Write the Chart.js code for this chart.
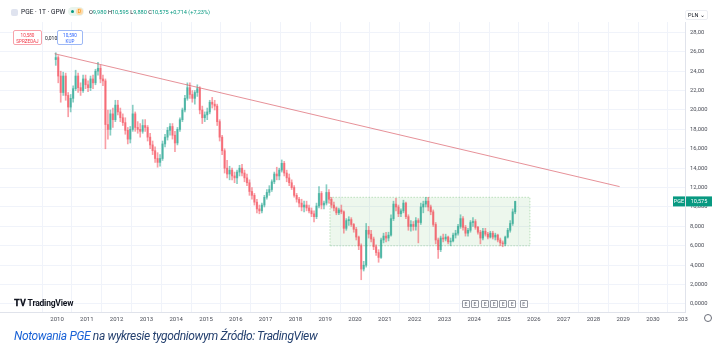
<!DOCTYPE html>
<html>
<head>
<meta charset="utf-8">
<script src="https://cdn.jsdelivr.net/npm/chart.js@4.4.1/dist/chart.umd.min.js"></script>
<style>
  html, body { margin:0; padding:0; background:#ffffff; }
  body { width:717px; height:355px; position:relative; overflow:hidden; font-family:"Roboto","Noto Sans",Arial,sans-serif; }
  #wrap { position:absolute; left:0; top:0; width:717px; height:327px; }
  .ov { position:absolute; white-space:nowrap; }
  #title { left:21px; top:8px; font-size:6.6px; color:#131722; }
  #logoDot { left:11px; top:9px; width:7px; height:7px; border-radius:2px; background:#dfe3ef; }
  #pill { left:68px; top:7px; width:16px; height:9px; border-radius:5px; background:#e9f5ee; }
  #pill .g { position:absolute; left:3px; top:3px; width:3px; height:3px; border-radius:2px; background:#089981; }
  #pill .o { position:absolute; left:8px; top:1px; width:7px; height:7px; border-radius:4px; background:#ffd9a8; color:#f08c00; font-size:5px; line-height:7px; text-align:center; }
  #ohlc { left:89px; top:9px; font-size:5.6px; color:#131722; }
  #ohlc b { font-weight:normal; color:#089981; }
  .btn { top:30px; height:15px; border-radius:2px; font-size:4.6px; line-height:5.5px; text-align:center; padding-top:2px; box-sizing:border-box; background:#fff; overflow:visible; }
  #sell { left:13px; width:29px; border:1px solid #f7a3ab; color:#f23645; }
  #buy { left:57px; width:26px; border:1px solid #9db8f5; color:#2962ff; }
  #spread { left:45px; top:35px; font-size:5px; color:#131722; }
  #pln { left:685px; top:10px; font-size:5.5px; color:#131722; border:1px solid #eceef3; border-radius:2px; padding:1px 2px; }
  #tvlogo { left:14px; top:298px; font-size:8.5px; font-weight:bold; color:#131722; letter-spacing:-0.2px; }
  #tvlogo span { font-size:9px; margin-right:2px; }
  #events { left:462px; top:300px; font-size:5px; color:#6a6d78; }
  #events i { font-style:normal; display:inline-block; border:1px solid #9598a1; border-radius:1px; width:6px; height:6px; line-height:6px; text-align:center; margin-right:1px; }
  #clock { left:704px; top:314px; width:6px; height:6px; border:1px solid #6a6d78; border-radius:4px; }
  #caption { left:14px; top:329px; font-size:12px; font-style:italic; color:#233f6e; font-family:"Roboto","Liberation Sans",sans-serif; letter-spacing:-0.35px; }
  #caption a { color:#1a62d6; text-decoration:none; }
</style>
</head>
<body>
<div id="wrap"><canvas id="c" width="717" height="327"></canvas></div>
<div class="ov" id="logoDot"></div>
<div class="ov" id="title">PGE · 1T · GPW</div>
<div class="ov" id="pill"><div class="g"></div><div class="o">D</div></div>
<div class="ov" id="ohlc">O<b>9,980</b> H<b>10,595</b> L<b>9,880</b> C<b>10,575</b> <b>+0,714 (+7,23%)</b></div>
<div class="ov btn" id="sell">10,580<br>SPRZEDAJ</div>
<div class="ov" id="spread">0,010</div>
<div class="ov btn" id="buy">10,590<br>KUP</div>
<div class="ov" id="pln">PLN &#8964;</div>
<div class="ov" id="tvlogo"><span>&#x1D413;&#x1D415;</span>TradingView</div>
<div class="ov" id="events"><i>E</i><i>E</i> <i>E</i><i>E</i><i>E</i><i>E</i> &nbsp;<i>E</i></div>
<div class="ov" id="clock"></div>
<div class="ov" id="caption"><a>Notowania PGE</a> na wykresie tygodniowym Źródło: TradingView</div>
<script>
// ---- DATA (monthly candles), first month Dec 2009 ----
const firstYear = 2009, firstMonth = 11; // December 2009 (0-based month)
const opens = [
  25.2,
  25.4,23.5,21.8,23.5,21.5,20.3,21.2,22.2,23.5,22.3,22.0,23.2,
  22.6,22.3,23.2,22.8,24.0,24.3,23.2,23.0,18.5,18.0,19.6,19.0,
  20.5,19.8,19.2,18.7,17.9,17.0,18.0,19.6,18.2,18.0,17.8,18.4,
  18.2,17.2,16.4,15.8,15.0,14.6,15.0,16.5,17.2,17.9,18.3,17.4,
  16.6,18.0,19.0,20.0,21.2,22.3,21.6,21.2,21.8,22.2,20.0,19.2,
  19.5,19.8,20.8,20.6,20.4,18.8,17.2,15.8,14.0,13.4,13.8,13.2,
  13.0,13.6,14.0,13.5,13.0,12.5,11.6,11.2,10.5,9.8,9.6,10.2,
  11.0,11.5,11.8,12.6,13.4,13.2,13.8,14.5,13.5,13.0,12.5,12.0,
  11.2,10.8,10.4,10.0,10.2,9.9,9.6,9.3,9.0,10.1,11.4,10.2,
  10.4,11.5,10.8,10.2,9.9,9.4,9.7,9.5,7.8,8.6,8.7,8.2,
  7.7,6.9,6.0,3.6,4.0,7.6,7.2,6.7,5.9,5.3,4.8,6.6,
  7.0,6.8,7.1,8.8,10.3,10.0,9.3,9.6,10.4,9.0,8.0,8.2,
  8.0,8.6,8.4,10.0,10.3,10.6,10.0,9.5,8.2,6.6,5.6,6.8,
  6.7,6.9,6.4,6.5,7.1,7.3,8.0,8.8,7.9,7.3,7.6,8.4,
  8.5,7.9,7.4,6.8,7.5,7.2,6.9,7.3,6.9,7.1,6.6,6.3,
  6.2,6.9,7.6,8.3,9.5
];
const highs = [
  25.9,
  25.6,24.0,23.9,23.8,21.8,21.6,22.5,24.1,23.8,22.8,23.6,23.6,
  23.0,23.5,23.6,24.2,24.9,24.6,23.6,23.2,20.0,20.0,20.2,21.0,
  21.0,20.2,19.6,19.2,18.2,18.3,20.5,19.8,18.8,18.6,19.0,19.0,
  18.4,17.6,16.8,16.2,15.6,15.4,16.8,17.5,18.2,18.6,18.6,17.8,
  18.2,19.2,20.2,21.5,22.8,22.8,22.0,22.0,22.6,22.4,20.4,19.8,
  20.2,21.0,21.3,21.0,20.6,19.0,17.4,16.0,14.8,14.2,14.0,13.6,
  13.8,14.3,14.4,13.8,13.4,12.8,12.0,11.4,10.8,10.2,10.4,11.2,
  11.8,12.2,12.8,13.6,14.1,14.0,14.85,14.7,13.8,13.4,12.8,12.2,
  11.4,11.0,10.8,10.6,10.6,10.2,9.9,9.6,10.4,12.1,11.6,10.6,
  12.3,11.8,11.0,10.5,10.0,9.9,10.2,9.6,8.8,9.0,8.9,8.3,
  7.9,7.0,6.2,4.4,8.3,8.0,7.6,6.9,6.1,5.6,6.8,7.3,
  7.4,7.4,9.2,10.6,10.9,10.2,9.8,10.7,10.5,9.2,8.6,8.5,
  8.9,8.8,10.4,10.6,11.0,11.0,10.2,9.7,8.4,6.8,7.0,7.2,
  7.2,7.0,6.8,7.3,7.6,8.2,9.2,9.0,8.1,7.8,8.6,8.9,
  8.7,8.0,7.6,7.8,7.8,7.4,7.5,7.5,7.3,7.2,6.8,6.5,
  7.0,7.8,8.6,9.8,10.6
];
const lows = [
  24.6,
  22.8,20.8,21.5,21.0,19.3,19.8,20.8,22.0,21.8,21.5,21.8,22.2,
  21.9,22.0,22.2,22.6,23.6,22.8,22.5,16.0,17.0,17.4,18.2,18.8,
  19.5,18.8,18.4,17.5,16.5,16.6,17.8,17.8,17.6,17.2,17.6,17.8,
  16.8,16.0,15.4,14.6,14.1,14.2,14.8,16.2,16.9,17.4,17.0,15.7,
  16.4,17.8,18.8,19.8,21.0,21.2,20.8,20.6,21.4,19.6,18.6,18.8,
  19.0,19.6,20.2,20.0,18.4,16.8,15.4,13.5,13.0,12.8,12.8,12.5,
  12.4,13.2,13.2,12.6,12.2,11.2,10.8,10.2,9.4,9.3,9.4,10.0,
  10.8,11.2,11.6,12.4,12.8,12.8,13.6,13.2,12.6,12.2,11.8,11.0,
  10.5,10.0,9.6,9.5,9.6,9.4,9.0,8.45,8.8,9.9,9.8,9.8,
  10.2,10.4,9.9,9.6,9.2,9.2,9.3,7.3,7.6,8.1,8.0,7.4,
  6.6,5.6,2.5,3.4,3.8,6.8,6.4,5.6,5.0,4.3,4.7,6.3,
  6.4,6.5,7.0,8.6,9.6,9.0,9.0,9.4,8.8,7.6,7.5,7.6,
  7.6,6.3,8.2,9.4,10.0,9.6,9.2,8.0,6.2,4.7,5.4,6.4,
  6.5,6.2,6.0,6.4,6.8,7.1,7.8,7.6,7.0,7.0,7.4,8.0,
  7.7,7.2,6.2,6.6,7.0,6.7,6.8,6.7,6.6,6.4,6.0,5.9,
  6.0,6.8,7.4,8.1,9.3
];
const closes = [
  25.4,
  23.5,21.8,23.5,21.5,20.3,21.2,22.2,23.5,22.3,22.0,23.2,22.6,
  22.3,23.2,22.8,24.0,24.3,23.2,23.0,18.5,18.0,19.6,19.0,20.5,
  19.8,19.2,18.7,17.9,17.0,18.0,19.6,18.2,18.0,17.8,18.4,18.2,
  17.2,16.4,15.8,15.0,14.6,15.0,16.5,17.2,17.9,18.3,17.4,16.6,
  18.0,19.0,20.0,21.2,22.3,21.6,21.2,21.8,22.2,20.0,19.2,19.5,
  19.8,20.8,20.6,20.4,18.8,17.2,15.8,14.0,13.4,13.8,13.2,13.0,
  13.6,14.0,13.5,13.0,12.5,11.6,11.2,10.5,9.8,9.6,10.2,11.0,
  11.5,11.8,12.6,13.4,13.2,13.8,14.5,13.5,13.0,12.5,12.0,11.2,
  10.8,10.4,10.0,10.2,9.9,9.6,9.3,9.0,10.1,11.4,10.2,10.4,
  11.5,10.8,10.2,9.9,9.4,9.7,9.5,7.8,8.6,8.7,8.2,7.7,
  6.9,6.0,3.6,4.0,7.6,7.2,6.7,5.9,5.3,4.8,6.6,7.0,
  6.8,7.1,8.8,10.3,10.0,9.3,9.6,10.4,9.0,8.0,8.2,8.0,
  8.6,8.4,10.0,10.3,10.6,10.0,9.5,8.2,6.6,5.6,6.8,6.7,
  6.9,6.4,6.5,7.1,7.3,8.0,8.8,7.9,7.3,7.6,8.4,8.5,
  7.9,7.4,6.8,7.5,7.2,6.9,7.3,6.9,7.1,6.6,6.3,6.2,
  6.9,7.6,8.3,9.5,10.575
];
// Trendline (decimal year, price) and consolidation box
const trendX = [2009.92, 2028.88];
const trendY = [25.8, 12.1];
const boxX = [2019.16, 2025.87];
const boxY = [6.0, 11.0];
// Axis ticks
const xTickYears = [2010,2011,2012,2013,2014,2015,2016,2017,2018,2019,2020,2021,2022,2023,2024,2025,2026,2027,2028,2029,2030,2031];
const xTickLabels = ['2010','2011','2012','2013','2014','2015','2016','2017','2018','2019','2020','2021','2022','2023','2024','2025','2026','2027','2028','2029','2030','203'];
const yTickValues = [0,2,4,6,8,10,12,14,16,18,20,22,24,26,28];
const yTickLabels = ['0,0000','2,0000','4,000','6,000','8,000','10,000','12,000','14,000','16,000','18,000','20,000','22,00','24,00','26,00','28,00'];

// ---- BUILD ----
const monthPos = i => { const m = firstMonth + i; return firstYear + Math.floor(m/12) + ((m % 12) + 0.5) / 12; };
const UP = 'rgba(8,153,129,0.48)', DOWN = 'rgba(242,54,69,0.48)';
const cols = closes.map((c,i) => c >= opens[i] ? UP : DOWN);
const wickData = closes.map((c,i) => ({ x: monthPos(i), y: [lows[i], highs[i]] }));
const bodyData = closes.map((c,i) => ({ x: monthPos(i), y: [Math.min(opens[i], c), Math.max(opens[i], c) + (Math.abs(opens[i]-c) < 0.05 ? 0.05 : 0)] }));
const boxData = [{x:boxX[0],y:boxY[0]},{x:boxX[0],y:boxY[1]},{x:boxX[1],y:boxY[1]},{x:boxX[1],y:boxY[0]},{x:boxX[0],y:boxY[0]}];
const trendData = [{x:trendX[0],y:trendY[0]},{x:trendX[1],y:trendY[1]}];

const fmt = v => v.toFixed(3).replace('.', ',');
const tagPlugin = {
  id: 'tag',
  afterDraw(chart) {
    const c = chart.ctx, y = chart.scales.y.getPixelForValue(closes[closes.length-1]);
    c.save();
    c.fillStyle = '#089981';
    c.fillRect(673, y-5, 12, 10);
    c.fillRect(686, y-5, 26, 10);
    c.fillStyle = '#ffffff';
    c.font = '5.5px Roboto, sans-serif';
    c.textBaseline = 'middle';
    c.textAlign = 'center';
    c.fillText('PGE', 679, y);
    c.fillText(fmt(closes[closes.length-1]), 699, y);
    c.restore();
  }
};

new Chart(document.getElementById('c'), {
  type: 'bar',
  data: {
    datasets: [
      { type:'line', data: boxData, borderColor:'rgba(76,175,80,0.35)', borderWidth:1, borderDash:[1.5,1.5],
        backgroundColor:'rgba(76,175,80,0.10)', fill:'shape', pointRadius:0, tension:0, order:5 },
      { type:'line', data: trendData, borderColor:'rgba(214,72,84,0.6)', borderWidth:1, pointRadius:0, fill:false, order:0 },
      { type:'bar', data: wickData, backgroundColor: cols, barThickness:1, grouped:false, order:2 },
      { type:'bar', data: bodyData, backgroundColor: cols, barThickness:1.6, grouped:false, order:1 }
    ]
  },
  options: {
    responsive:false, animation:false, maintainAspectRatio:false,
    layout:{ padding:{ top:22, left:0, right:0, bottom:0 } },
    plugins:{ legend:{display:false}, tooltip:{enabled:false} },
    scales:{
      x:{ type:'linear', min:2008.087, max:2031.074, offset:false,
          afterBuildTicks: s => { s.ticks = xTickYears.map(v => ({value:v})); },
          afterFit: s => { s.height = 15; },
          grid:{ color:'#f0f3fa', drawTicks:false },
          border:{ color:'#e0e3eb' },
          ticks:{ callback:(v,i) => xTickLabels[i], font:{size:6, family:'Roboto'}, color:'#4a4d57', padding:4, maxRotation:0, autoSkip:false } },
      y:{ type:'linear', position:'right', min:-0.825, max:29.07,
          afterBuildTicks: s => { s.ticks = yTickValues.map(v => ({value:v})); },
          afterFit: s => { s.width = 32; },
          grid:{ color:'#f0f3fa', drawTicks:false },
          border:{ color:'#e0e3eb' },
          ticks:{ callback:(v,i) => yTickLabels[i], font:{size:5.8, family:'Roboto'}, color:'#4a4d57', padding:5, autoSkip:false } }
    }
  },
  plugins:[tagPlugin]
});
</script>
</body>
</html>
